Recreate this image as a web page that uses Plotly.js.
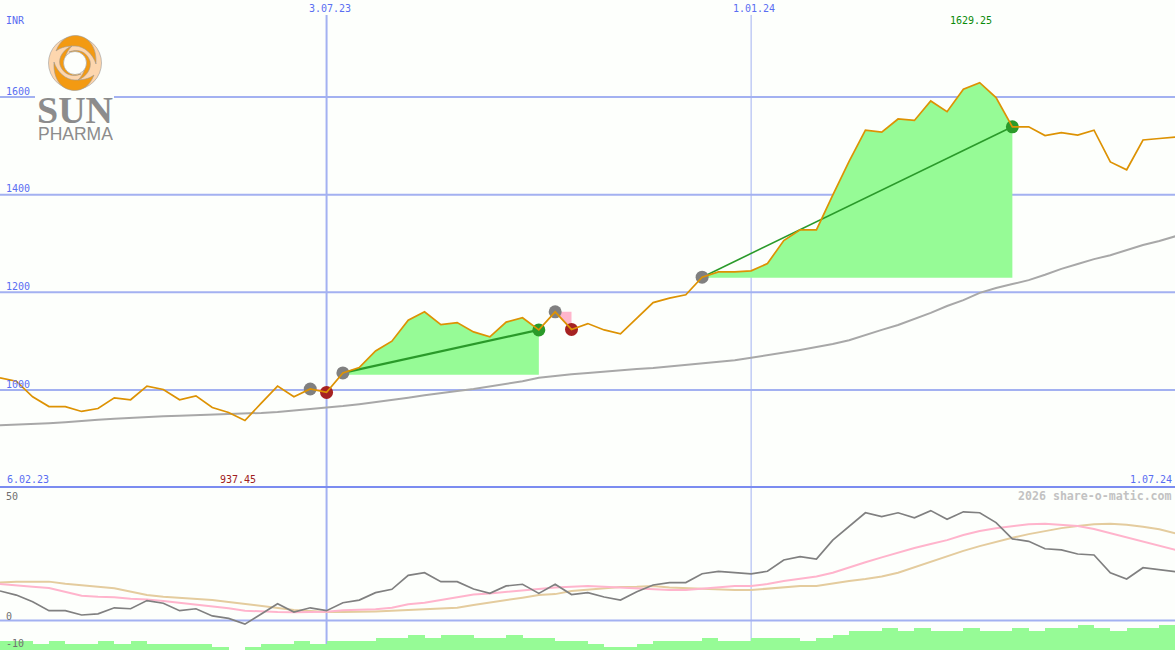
<!DOCTYPE html>
<html><head><meta charset="utf-8">
<script src="https://cdn.plot.ly/plotly-3.0.1.min.js"></script>
<style>html,body{margin:0;padding:0;background:#fdfffc;overflow:hidden}#c{width:1175px;height:650px}</style>
</head><body><div id="c"></div>
<script>
var price=[1025,1018,986,966,966,956,962,984,980,1008,1001,980,988,964,954,937.45,973,1008,986,1002,995,1035,1046,1080,1100,1143,1160,1134,1138,1119,1109,1139,1148,1123,1160,1124,1136,1123,1115,1148,1179,1188,1195,1231,1242,1242,1244,1259,1306,1328,1328,1399,1468,1532,1528,1555,1552,1592,1570,1616,1629.25,1599,1539,1539,1521,1527,1522,1532,1467,1451,1512,1515,1518];
var sma=[928,929,931,932,934,937,939,941,943,944,946,947,948,949,950,951,953,955,958,961,963,967,971,975,980,984,989,994,998,1002,1007,1012,1018,1025,1029,1032,1035,1038,1041,1043,1045,1048,1051,1054,1058,1061,1066,1071,1076,1082,1088,1094,1102,1113,1123,1133,1145,1158,1172,1184,1199,1209,1217,1225,1236,1248,1258,1268,1276,1287,1297,1305,1315];
var rsi=[12.3,10.6,7.8,4.1,4.1,2.3,2.8,5.3,4.9,8.3,7.2,4.1,4.9,1.9,0.9,-1.5,2.7,7,3.5,5.3,4.1,7.4,8.5,11.6,13,18.8,19.9,16.2,16.2,13.1,11.3,14.4,15.1,11.3,15.1,10.8,11.6,9.8,8.5,12,14.8,15.8,15.8,19.5,20.5,19.9,19.4,20.5,25.2,26.6,25.6,33.5,39.1,44.9,43.3,44.9,42.8,45.8,42.2,45.3,44.9,40.8,34,33,29.9,29.4,27.7,27.3,19.9,17.3,22,21,20.3];
var fast=[15.2,14.8,14.1,13.5,11.9,10.3,9.9,9.7,9.1,8.8,8.1,7.4,6.6,5.8,5.1,4.1,3.7,3.5,3.4,3.5,3.7,4.3,4.4,4.7,5.3,6.8,7.4,8.5,9.7,10.8,11.3,12,12.7,13.1,13.8,14.1,14.4,14.1,13.7,13.3,12.8,12.7,12.7,13.3,14.1,14.4,14.4,15.2,16.5,17.3,18.3,19.9,22.2,24.3,26.3,28.3,30.2,31.9,33.5,35.6,37.3,38.4,39.4,40.1,40.3,39.9,39.4,38.1,36.3,34.7,32.8,31.2,29.4];
var slow=[15.8,16.2,16.2,16.2,15.3,14.8,14.1,13.4,12,10.6,9.9,9.5,9.1,8.5,7.7,6.9,6,5.2,4.4,4,3.5,3.5,3.5,3.8,4.1,4.4,4.4,4.8,5.3,6.5,7.4,8.5,9.5,10.6,11,12.3,12.8,13.3,14,14.1,14.4,13.8,13.5,13.1,12.7,12.7,12.7,13.3,14.1,14.4,14.4,15.5,16.5,17.3,18.3,19.9,22.2,24.4,26.6,29,31,32.8,34.5,36,37.4,38.5,39.4,40.1,40.3,39.9,39.1,38,36.3];
var volume=[9,9,6,9,6,6,9,6,9,6,6,6,6,3,0,3,6,6,9,6,9,9,9,12,12,15,12,15,15,12,12,15,12,12,9,9,6,3,3,6,9,9,9,12,9,9,12,12,12,9,12,15,19,19,22,19,22,19,19,22,19,19,22,19,22,22,25,22,19,22,22,25,25];
var weeks=price.map(function(_,i){return i;});
var gridLevels=[1000,1200,1400,1600];
var gridTickLabels=["1000","1200","1400","1600"];
var dateMarks=[{i:20,label:"3.07.23",w:2},{i:46,label:"1.01.24",w:1}];
var buyOpen=[21,43], buyClose=[33,62], buyBase=[1031,1230];
var sellOpen=[19,34], sellClose=[20,35];

var GRID='#a3b1f1', BLUE='#5a6ef2', BG='#fdfffc', FILL='#96fb96', PINK='#ffb6cc';
var H=650, W=1175;
function py(p){return 1-p/H;}
var MONO='"DejaVu Sans Mono", monospace';
function ann(t,x,y,col,anchor,size,extra){
  var a={text:t,xref:'paper',yref:'paper',x:x/W,y:py(y),xanchor:anchor||'left',yanchor:'middle',showarrow:false,
    font:{family:MONO,size:size||10,color:col},borderpad:0,borderwidth:0};
  for(var k in (extra||{}))a[k]=extra[k];
  return a;
}
var traces=[];
function slice(a,s,e){return a.slice(s,e+1);}
buyOpen.forEach(function(o,n){
  var c=buyClose[n];
  traces.push({type:'scatter',mode:'lines',x:slice(weeks,o,c).concat([weeks[c],weeks[o]]),
    y:slice(price,o,c).concat([buyBase[n],buyBase[n]]),fill:'toself',fillcolor:FILL,line:{width:0},yaxis:'y',hoverinfo:'skip'});
});
sellOpen.forEach(function(o,n){
  var c=sellClose[n];
  traces.push({type:'scatter',mode:'lines',x:[weeks[o],weeks[c],weeks[c]],y:[price[o],price[o],price[c]],fill:'toself',fillcolor:PINK,line:{width:0},yaxis:'y',hoverinfo:'skip'});
});
traces.push({type:'bar',x:weeks,y:volume,width:1,offset:0,marker:{color:FILL,line:{width:0}},yaxis:'y3',hoverinfo:'skip'});
traces.push({type:'scatter',mode:'lines',x:weeks,y:sma,line:{color:'#a8a8a8',width:2},yaxis:'y',hoverinfo:'skip'});
buyOpen.forEach(function(o,n){
  var c=buyClose[n];
  traces.push({type:'scatter',mode:'lines',x:[weeks[o],weeks[c]],y:[price[o],price[c]],line:{color:'#2a9a2a',width:n==0?2.2:1.6},yaxis:'y',hoverinfo:'skip'});
});
function mk(idx,col){traces.push({type:'scatter',mode:'markers',x:idx.map(function(i){return weeks[i];}),y:idx.map(function(i){return price[i];}),marker:{color:col,size:13,line:{width:0}},yaxis:'y',hoverinfo:'skip'});}
mk(sellOpen.concat(buyOpen),'#808080');
mk(sellClose,'#a62222');
mk(buyClose,'#2a9a2a');
traces.push({type:'scatter',mode:'lines',x:weeks,y:price,line:{color:'#dd9203',width:1.7},yaxis:'y',hoverinfo:'skip'});
traces.push({type:'scatter',mode:'lines',x:weeks,y:slow,line:{color:'#e4cc9e',width:2},yaxis:'y2',hoverinfo:'skip'});
traces.push({type:'scatter',mode:'lines',x:weeks,y:fast,line:{color:'#ffb4cc',width:2},yaxis:'y2',hoverinfo:'skip'});
traces.push({type:'scatter',mode:'lines',x:weeks,y:rsi,line:{color:'#808080',width:1.7},yaxis:'y2',hoverinfo:'skip'});

var shapes=[];
gridLevels.forEach(function(v){shapes.push({type:'line',layer:'below',xref:'paper',x0:0,x1:1,yref:'y',y0:v,y1:v,line:{color:GRID,width:2}});});
dateMarks.forEach(function(d){shapes.push({type:'line',layer:'below',xref:'x',x0:d.i,x1:d.i,yref:'paper',y0:0,y1:py(15),line:{color:GRID,width:d.w}});});
shapes.push({type:'line',layer:'below',xref:'paper',x0:0,x1:1,yref:'y2',y0:0,y1:0,line:{color:GRID,width:2}});
shapes.push({type:'line',layer:'below',xref:'paper',x0:0,x1:1,yref:'paper',y0:py(487),y1:py(487),line:{color:'#7b8cf0',width:2}});
shapes.push({type:'rect',layer:'below',xref:'paper',yref:'paper',x0:35/W,x1:114/W,y0:py(140),y1:py(92),fillcolor:BG,line:{width:0}});

var annotations=[
 ann('INR',6,21,BLUE),
 ann(dateMarks[0].label,330,8,BLUE,'center'),
 ann(dateMarks[1].label,754,8,BLUE,'center'),
 ann('1629.25',971,21,'#0a8a0a','center'),
 ann('6.02.23',7,479,BLUE),
 ann('937.45',238,479,'#a02020','center'),
 ann('1.07.24',1172,479,BLUE,'right'),
 ann('<b>2026 share-o-matic.com</b>',1172,496,'#c2c2c2','right',11.6),
 ann('50',6,496,'#707070'),
 ann('0',6,616,'#707070'),
 ann('-10',6,643,'#707070'),
 ann('<b>SUN</b>',75,109,'#8c8c8c','center',38,{font:{family:'"Liberation Serif",serif',size:38,color:'#8c8c8c'},height:29}),
 ann('PHARMA',75,133,'#8c8c8c','center',17.5,{font:{family:'"Liberation Sans",sans-serif',size:17.5,color:'#8c8c8c'},height:15})
];
gridTickLabels.forEach(function(t,n){
  var yp=390-(gridLevels[n]-1000)/2.048;
  annotations.push(ann(t,6,yp-6,BLUE));
});
var crescent='M-19 -12C-15 -23 -7 -27.5 0 -27.5C12 -27.5 22 -18 21 1C18 -9 9 -17 0 -17C-7 -17 -14 -16 -19 -12Z';
var crescent2='M-6 -11C3 -15 12 -11 15 -2C17 6 11 14 3 17C9 11 11 5 9 -1C7 -7 1 -11 -6 -11Z';
var svg='<svg xmlns="http://www.w3.org/2000/svg" width="60" height="60" viewBox="-30 -30 60 60">'+
 '<g stroke="#9a9a9a" stroke-width="0.6">'+
 '<circle r="26.5" fill="#fdd6ae"/>'+
 '<g fill="#f39a12"><path d="'+crescent+'"/><path d="'+crescent+'" transform="rotate(180)"/>'+
 '<path d="'+crescent2+'"/><path d="'+crescent2+'" transform="rotate(180)"/></g>'+
 '<circle r="11.5" fill="#fdfffc"/></g></svg>';
var images=[{source:'data:image/svg+xml;base64,'+btoa(svg),xref:'paper',yref:'paper',x:45/W,y:py(33),sizex:60/W,sizey:60/H,sizing:'contain',xanchor:'left',yanchor:'top',layer:'above'}];

var layout={width:W,height:H,margin:{l:0,r:0,t:0,b:0},paper_bgcolor:BG,plot_bgcolor:'rgba(0,0,0,0)',showlegend:false,barmode:'overlay',bargap:0,
 xaxis:{domain:[0,1],range:[0,71.96],visible:false,fixedrange:true,anchor:'y'},
 yaxis:{domain:[py(487),1],range:[801.3,1798.7],visible:false,fixedrange:true},
 yaxis2:{domain:[0,py(489)],range:[-12.29,54.8],visible:false,fixedrange:true,anchor:'x'},
 yaxis3:{domain:[0,py(489)],range:[0,161],visible:false,fixedrange:true,anchor:'x'},
 shapes:shapes,annotations:annotations,images:images};
Plotly.newPlot('c',traces,layout,{displayModeBar:false,staticPlot:true});
</script></body></html>
